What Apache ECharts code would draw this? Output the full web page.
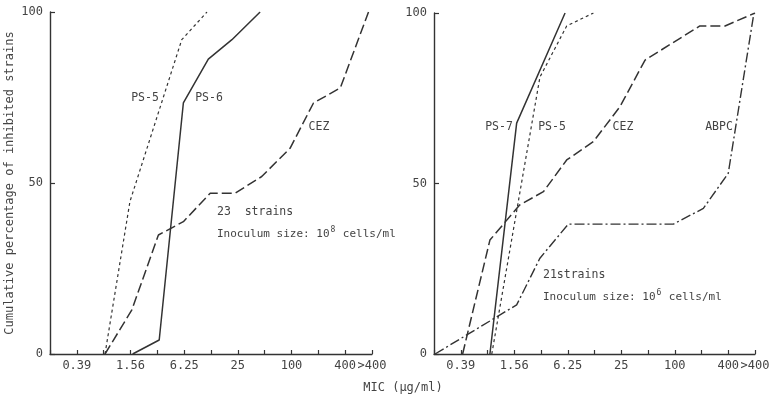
<!DOCTYPE html>
<html>
<head>
<meta charset="utf-8">
<script src="https://cdn.jsdelivr.net/npm/echarts@6/dist/echarts.min.js"></script>
<style>
  html, body { margin: 0; padding: 0; background: #fff; }
  #chart { width: 773px; height: 399px; }
</style>
</head>
<body>
<div id="chart"></div>
<script>
// MIC dilution steps (x = step index along the log2 axis)
const tickLabels = ['', '0.39', '', '1.56', '', '6.25', '', '25', '', '100', '', '400', '>400'];
const yTicks = [0, 50, 100];

// Left panel: 23 strains, inoculum 10^8 cells/ml  ([step, cumulative %])
const leftPS5 = [[2.05, 0], [2.98, 44.6], [4.91, 91.9], [5.85, 100]];
const leftPS6 = [[3.08, 0], [4.07, 4.1], [4.97, 73.4], [5.9, 86.2], [6.78, 91.9], [7.83, 100]];
const leftCEZ = [[2.05, 0], [3.05, 12.9], [4.04, 34.8], [4.97, 38.7], [5.97, 47.0], [6.9, 47.0],
                 [7.89, 51.9], [8.95, 60.2], [9.82, 73.4], [10.82, 77.8], [11.87, 100]];

// Right panel: 21 strains, inoculum 10^6 cells/ml
const rightPS7 = [[2.09, 0], [3.09, 67.7], [4.9, 100]];
const rightPS5 = [[2.16, 0], [3.96, 81.2], [4.96, 96.2], [5.96, 100]];
const rightCEZ = [[1.07, 0], [2.09, 33.4], [3.2, 43.7], [4.09, 47.6], [4.96, 56.9], [5.96, 62.3],
                  [6.95, 72.5], [7.89, 86.2], [9.94, 96.2], [10.88, 96.2], [12, 100]];
const rightABPC = [[0.04, 0], [3.09, 14.4], [3.96, 28.1], [5.02, 38.1], [8.95, 38.1],
                   [10.07, 42.7], [11.0, 53], [11.96, 100]];

const FONT = '"DejaVu Sans Mono", monospace';
const INK = '#333';
const TXT = '#444';

function xAxis(gi) {
  return {
    gridIndex: gi, type: 'value', min: 0, max: 12, interval: 1,
    axisLine: { show: true, lineStyle: { color: INK, width: 1.4 } },
    axisTick: { show: true, inside: true, length: 4, lineStyle: { color: INK, width: 1.2 } },
    axisLabel: {
      show: true, margin: 6, fontSize: 12, color: TXT, fontFamily: FONT,
      showMinLabel: true, showMaxLabel: true,
      formatter: v => tickLabels[Math.round(v)] || ''
    },
    splitLine: { show: false }
  };
}
function yAxis(gi, name) {
  return {
    gridIndex: gi, type: 'value', min: 0, max: 100, interval: 50,
    name: name, nameLocation: 'middle', nameGap: 34,
    nameTextStyle: { fontSize: 12, color: TXT, fontFamily: FONT },
    axisLine: { show: true, lineStyle: { color: INK, width: 1.4 } },
    axisTick: { show: true, inside: true, length: 5, lineStyle: { color: INK, width: 1.2 } },
    axisLabel: { margin: 7, fontSize: 12, color: TXT, fontFamily: FONT,
      formatter: v => yTicks.indexOf(v) >= 0 ? String(v) : '' },
    splitLine: { show: false }
  };
}
function line(gi, data, type, width) {
  return {
    type: 'line', xAxisIndex: gi, yAxisIndex: gi, data: data,
    symbol: 'none', animation: false, silent: true,
    lineStyle: { color: INK, width: width, type: type }
  };
}
function txt(x, y, s, align, size) {
  return { type: 'text', x: x, y: y,
    style: { text: s, fill: TXT, font: (size || 11.5) + 'px ' + FONT, align: align || 'center', verticalAlign: 'middle' } };
}
// "Inoculum size: 10^n cells/ml" with a raised exponent
const CW = 11 * 0.602;
function inoculum(x, y, exp) {
  return [
    txt(x, y, 'Inoculum size: 10', 'left', 11),
    txt(x + 17 * CW + 1, y - 4, exp, 'left', 8),
    txt(x + 18 * CW, y, ' cells/ml', 'left', 11)
  ];
}

const chart = echarts.init(document.getElementById('chart'), null, { renderer: 'canvas' });
chart.setOption({
  backgroundColor: '#fff',
  animation: false,
  grid: [
    { left: 50, top: 12, width: 322, height: 342 },
    { left: 434, top: 13, width: 321, height: 341 }
  ],
  xAxis: [xAxis(0), xAxis(1)],
  yAxis: [yAxis(0, 'Cumulative percentage of inhibited strains'), yAxis(1, '')],
  series: [
    line(0, leftPS5, [3, 3], 1.2),
    line(0, leftPS6, 'solid', 1.5),
    line(0, leftCEZ, [10, 4], 1.5),
    line(1, rightPS7, 'solid', 1.5),
    line(1, rightPS5, [3, 3], 1.2),
    line(1, rightCEZ, [10, 4], 1.5),
    line(1, rightABPC, [10, 3, 2, 3], 1.4)
  ],
  graphic: [
    txt(145, 98, 'PS-5'),
    txt(209, 98, 'PS-6'),
    txt(319, 127, 'CEZ'),
    txt(217, 212, '23  strains', 'left', 11.5),
    ...inoculum(217, 234, '8'),
    txt(499, 127, 'PS-7'),
    txt(552, 127, 'PS-5'),
    txt(623, 127, 'CEZ'),
    txt(719, 127, 'ABPC'),
    txt(543, 275, '21strains', 'left', 11.5),
    ...inoculum(543, 297, '6'),
    { type: 'text', x: 403, y: 388,
      style: { text: 'MIC (\u00b5g/ml)', fill: TXT, font: '12px ' + FONT, align: 'center', verticalAlign: 'middle' } }
  ]
});
</script>
</body>
</html>
